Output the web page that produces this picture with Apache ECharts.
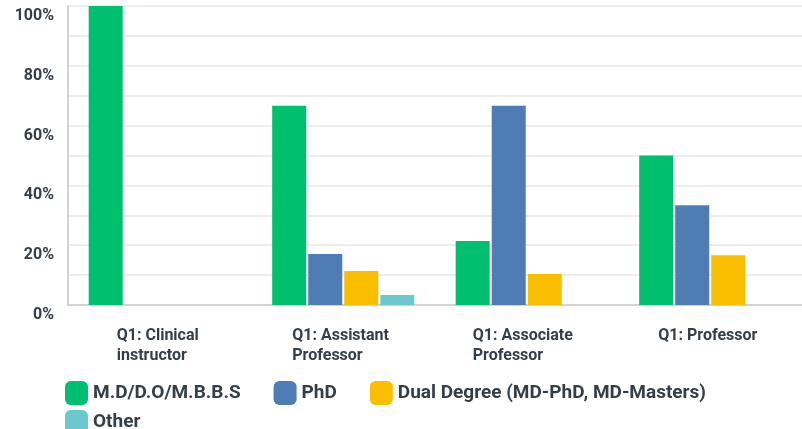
<!DOCTYPE html>
<html>
<head>
<meta charset="utf-8">
<script src="https://cdn.jsdelivr.net/npm/echarts@6/dist/echarts.min.js"></script>
<style>
  html, body { margin: 0; padding: 0; background: #fff; }
  #chart { width: 802px; height: 429px; }
</style>
</head>
<body>
<div id="chart"></div>
<script>
// categories and values (percent of respondents)
const categories = ["Q1: Clinical\ninstructor", "Q1: Assistant\nProfessor", "Q1: Associate\nProfessor", "Q1: Professor"];
const mdValues = [100, 66.67, 21.43, 50];
const phdValues = [0, 17.02, 66.67, 33.33];
const dualValues = [0, 11.35, 10.34, 16.67];
const otherValues = [0, 3.33, 0, 0];
const seriesNames = ["M.D/D.O/M.B.B.S", "PhD", "Dual Degree (MD-PhD, MD-Masters)", "Other"];
const colors = ["#00bf6f", "#507cb6", "#f9be00", "#6bc8cd"];

const textColor = "#333e48";
const font = "Roboto";

let myChart = echarts.init(document.getElementById("chart"));

// each label box is as wide as its longest line so lines stay left aligned
const labelWidths = [86, 102, 108, 104];

function makeSeries(name, data, color) {
  return {
    name: name,
    type: "bar",
    data: data,
    barWidth: 34,
    barGap: "6%",
    itemStyle: { color: color },
  };
}

function richLabel(w) {
  return { width: w, align: "left", color: textColor, fontFamily: font, fontWeight: "bold", fontSize: 16, lineHeight: 20 };
}

const legendBase = {
  left: 60,
  icon: "roundRect",
  itemWidth: 23,
  itemHeight: 24,
  itemGap: 33,
  textStyle: {
    color: textColor,
    fontFamily: font,
    fontWeight: "bold",
    fontSize: 19,
  },
};

myChart.setOption({
  animation: false,
  color: colors,
  grid: { left: 68, right: 0, top: 6, bottom: 124 },
  // two legends so "Other" sits on its own row
  legend: [
    Object.assign({}, legendBase, { top: 376, data: seriesNames.slice(0, 3) }),
    Object.assign({}, legendBase, { top: 405, data: seriesNames.slice(3) }),
  ],
  xAxis: {
    type: "category",
    data: categories,
    axisTick: { show: false },
    axisLine: { lineStyle: { color: "#d0d2d3", width: 2 } },
    axisLabel: {
      margin: 21,
      interval: 0,
      formatter: function (value, index) {
        return value
          .split("\n")
          .map((line) => "{c" + index + "|" + line + "}")
          .join("\n");
      },
      rich: {
        c0: richLabel(labelWidths[0]),
        c1: richLabel(labelWidths[1]),
        c2: richLabel(labelWidths[2]),
        c3: richLabel(labelWidths[3]),
      },
    },
  },
  yAxis: {
    type: "value",
    min: 0,
    max: 100,
    interval: 10,
    axisLine: { show: true, lineStyle: { color: "#d0d2d3", width: 2 } },
    axisTick: { show: false },
    splitLine: { lineStyle: { color: "#ededed", width: 2 } },
    axisLabel: {
      margin: 14,
      verticalAlign: "top",
      padding: [2, 0, 0, 0],
      color: textColor,
      fontFamily: font,
      fontWeight: "bold",
      fontSize: 16,
      formatter: function (v) {
        return v % 20 === 0 ? v + "%" : "";
      },
    },
  },
  series: [
    makeSeries(seriesNames[0], mdValues, colors[0]),
    makeSeries(seriesNames[1], phdValues, colors[1]),
    makeSeries(seriesNames[2], dualValues, colors[2]),
    makeSeries(seriesNames[3], otherValues, colors[3]),
  ],
});

window.onresize = function () {
  myChart.resize();
};
</script>
</body>
</html>
